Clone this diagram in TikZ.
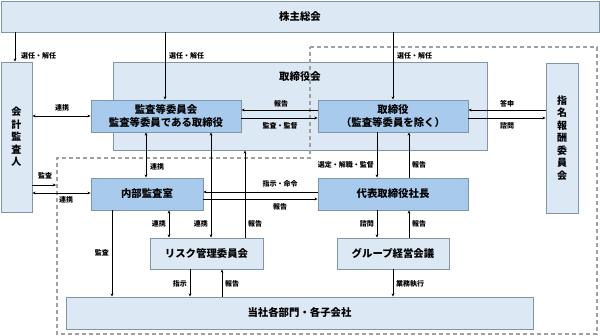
\documentclass[tikz,border=0pt]{standalone}
\usepackage{fontspec}
\setmainfont{Noto Sans CJK JP}
\usetikzlibrary{arrows.meta}
\definecolor{lightc}{HTML}{DDE8F5}
\definecolor{darkc}{HTML}{A8CAEC}
\definecolor{bordc}{HTML}{7F95A8}
\definecolor{dashc}{HTML}{A0A0A0}
\begin{document}
\begin{tikzpicture}[x=1pt,y=-1pt,
 box/.style={draw=bordc, line width=0.9pt, fill=lightc, inner sep=0pt, align=center, font=\fontsize{10.4}{12.7}\selectfont\bfseries},
 dbox/.style={box, fill=darkc},
 vbox/.style={box, font=\fontsize{10}{12.5}\selectfont\bfseries},
 arr/.style={-{Stealth[length=3.2pt,width=2.8pt]}, line width=0.7pt},
 darr/.style={{Stealth[length=3.2pt,width=2.8pt]}-{Stealth[length=3.2pt,width=2.8pt]}, line width=0.7pt},
 lbl/.style={font=\fontsize{7}{8}\selectfont\bfseries, inner sep=1pt},
 dashline/.style={draw=dashc, dash pattern=on 4pt off 3pt, line width=1.2pt}]
\useasboundingbox (0,0) rectangle (600,336);

% boxes
\node[box, minimum width=598pt, minimum height=31pt] (kabu) at (300,16.5) {株主総会};
\node[box, minimum width=374pt, minimum height=88pt] (torikai) at (300,106) {};
\node[font=\fontsize{10.4}{12}\selectfont\bfseries, inner sep=0pt] (torikailbl) at (300,77) {取締役会};

\draw[dashline] (310,47) -- (597,47) -- (597,334) -- (57,334) -- (57,158) -- (310,158) -- cycle;

\node[vbox, minimum width=31pt, minimum height=150pt] (kaikei) at (16.5,137) {会\\計\\監\\査\\人};
\node[vbox, minimum width=32pt, minimum height=150pt] (shimei) at (562,138) {指\\名\\報\\酬\\委\\員\\会};
\node[dbox, minimum width=150pt, minimum height=32pt] (kansa) at (166,116) {監査等委員会\\監査等委員である取締役};
\node[dbox, minimum width=150pt, minimum height=32pt] (tori) at (393,116) {取締役\\（監査等委員を除く）};
\node[dbox, minimum width=150pt, minimum height=32pt] (daihyo) at (393,194) {代表取締役社長};
\node[dbox, minimum width=112pt, minimum height=32pt] (naibu) at (147,194) {内部監査室};
\node[box, minimum width=113pt, minimum height=31pt] (risk) at (206.5,253.5) {リスク管理委員会};
\node[box, minimum width=112pt, minimum height=31pt] (group) at (393,253.5) {グループ経営会議};
\node[box, minimum width=467pt, minimum height=32pt] (kaku) at (299.5,313) {当社各部門・各子会社};

% shareholders
\draw[arr] (kabu.south -| 15,0) -- (kaikei.north -| 15,0);
\node[lbl, anchor=west] (l1) at (20,56) {選任・解任};
\draw[arr] (kabu.south -| 165,0) -- (kansa.north -| 165,0);
\node[lbl, anchor=west] (l2) at (168,56) {選任・解任};
\draw[arr] (kabu.south -| tori.north) -- (tori.north);
\node[lbl, anchor=west] (l3) at (396,56) {選任・解任};

% auditor
\draw[darr] (kaikei.east |- 0,116) -- (kansa.west |- 0,116);
\node[lbl] (l4) at (62,108) {連携};
\coordinate (auditend) at (56,185);
\draw[arr] (kaikei.east |- auditend) -- (auditend);
\node[lbl] (l23) at (45,176) {監査};
\draw[darr] (kaikei.east |- 0,193) -- (naibu.west |- 0,193);
\node[lbl] (l24) at (66,200) {連携};

% board internal
\draw[arr] (tori.west |- 0,110) -- (kansa.east |- 0,110);
\node[lbl] (l5) at (281,104) {報告};
\draw[arr] (kansa.east |- 0,118) -- (tori.west |- 0,118);
\node[lbl] (l6) at (280,126) {監査・監督};

% nomination
\draw[arr] (shimei.west |- 0,110) -- (tori.east |- 0,110);
\node[lbl] (l7) at (507,104) {答申};
\draw[arr] (tori.east |- 0,118) -- (shimei.west |- 0,118);
\node[lbl] (l8) at (507,126) {諮問};

% audit committee down
\draw[darr] (kansa.south -| 146,0) -- (naibu.north -| 146,0);
\node[lbl, anchor=west] (l9) at (149,167) {連携};
\draw[darr] (kansa.south -| 211,0) -- (risk.north -| 211,0);
\node[lbl, anchor=east] (l10) at (209,224) {連携};
\draw[arr] (risk.north -| 245,0) -- (torikai.south -| 245,0);
\node[lbl, anchor=west] (l11) at (247,224) {報告};

% president - internal audit
\draw[arr] (daihyo.west |- 0,192) -- (naibu.east |- 0,192);
\node[lbl] (l12) at (280,184) {指示・命令};
\draw[arr] (naibu.east |- 0,199) -- (daihyo.west |- 0,199);
\node[lbl] (l13) at (280,207) {報告};

% directors - president
\draw[arr] (tori.south -| 377,0) -- (daihyo.north -| 377,0);
\node[lbl, anchor=east] (l14) at (375,165) {選定・解職・監督};
\draw[arr] (daihyo.north -| 409,0) -- (tori.south -| 409,0);
\node[lbl, anchor=west] (l15) at (411,165) {報告};

% internal audit
\draw[darr] (naibu.south -| 169,0) -- (risk.north -| 169,0);
\node[lbl, anchor=east] (l16) at (167,224) {連携};
\draw[arr] (naibu.south -| 112,0) -- (kaku.north -| 112,0);
\node[lbl, anchor=east] (l17) at (110,253) {監査};

% risk committee
\draw[arr] (risk.south -| 190,0) -- (kaku.north -| 190,0);
\node[lbl, anchor=east] (l18) at (188,284) {指示};
\draw[arr] (kaku.north -| 222,0) -- (risk.south -| 222,0);
\node[lbl, anchor=west] (l19) at (224,284) {報告};

% president - group
\draw[arr] (daihyo.south -| 377,0) -- (group.north -| 377,0);
\node[lbl, anchor=east] (l20) at (375,224) {諮問};
\draw[arr] (group.north -| 409,0) -- (daihyo.south -| 409,0);
\node[lbl, anchor=west] (l21) at (411,224) {報告};
\draw[arr] (group.south) -- (kaku.north -| group.south);
\node[lbl, anchor=west] (l22) at (395,284) {業務執行};
\end{tikzpicture}
\end{document}
